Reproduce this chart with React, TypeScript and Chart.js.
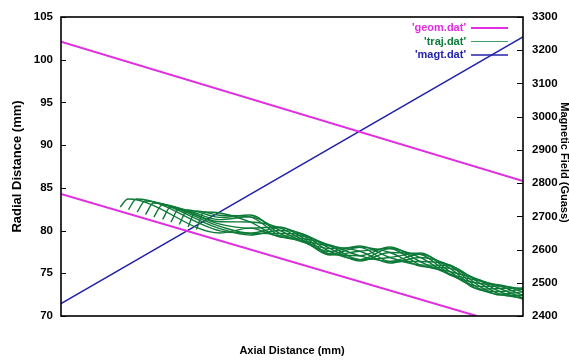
import React, { useEffect, useRef } from 'react';
import { Chart, registerables } from 'chart.js';

Chart.register(...registerables);

// ---- data ----
const radialRange = [70, 105];
const fieldRange = [2400, 3300];
const axialRange = [0, 100];

const geomUpperX = [0, 100];
const geomUpperY = [102.1, 85.8];
const geomLowerX = [0, 90];
const geomLowerY = [84.3, 70.0];

const magtX = [0, 100];
const magtY = [2437, 3240];

// trajectory heads: [start, first peak]
const trajHeads: number[][][] = [
  [[12.8, 82.76], [14.5, 83.70]],
  [[14.6, 82.46], [16.3, 83.70]],
  [[16.5, 82.17], [18.2, 83.46]],
  [[18.3, 81.88], [20.0, 83.23]],
  [[20.1, 81.59], [21.9, 83.0]],
  [[22.0, 81.30], [23.7, 82.76]],
  [[23.8, 81.0], [25.5, 82.53]],
  [[25.6, 80.71], [27.4, 82.41]],
  [[27.5, 80.42], [29.2, 82.29]],
  [[29.3, 80.12], [31.0, 82.17]],
];
const trajGridX = [34.4, 40.9, 47.4, 51.7, 58.2, 64.7, 71.2, 77.7, 84.2, 90.7, 95.0, 100];
const trajTails: number[][] = [
  [79.71, 80.29, 79.36, 79.39, 78.20, 76.60, 76.85, 77.37, 75.20, 73.15, 73.22, 73.28],
  [79.97, 79.70, 79.65, 79.63, 77.91, 76.44, 77.43, 77.23, 74.91, 73.45, 73.51, 73.15],
  [80.23, 79.48, 80.01, 79.72, 77.55, 76.60, 77.90, 76.85, 74.80, 73.81, 73.63, 72.83],
  [80.49, 79.70, 80.31, 79.63, 77.25, 77.05, 78.07, 76.38, 74.91, 74.10, 73.51, 72.43],
  [80.75, 80.29, 80.42, 79.39, 77.14, 77.58, 77.90, 75.99, 75.20, 74.21, 73.22, 72.11],
  [81.03, 81.01, 80.31, 79.10, 77.25, 78.03, 77.43, 75.85, 75.57, 74.10, 72.86, 71.99],
  [81.28, 81.60, 80.01, 78.87, 77.55, 78.19, 76.85, 75.99, 75.86, 73.81, 72.56, 72.11],
  [81.54, 81.82, 79.65, 78.78, 77.91, 78.03, 76.38, 76.38, 75.97, 73.45, 72.45, 72.43],
  [81.80, 81.60, 79.36, 78.87, 78.20, 77.58, 76.20, 76.85, 75.86, 73.15, 72.56, 72.83],
  [82.06, 81.01, 79.25, 79.10, 78.31, 77.05, 76.38, 77.23, 75.57, 73.04, 72.86, 73.15],
];

const legendLabels = ["'geom.dat'", "'traj.dat'", "'magt.dat'"];
const axisTitles = ['Axial Distance (mm)', 'Radial Distance (mm)', 'Magnetic Field (Guass)'];

// ---- styles ----
const GEOM = '#e02ee0';
const TRAJ = '#0e7a38';
const MAGT = '#2222aa';
const FONT = "'Liberation Sans', Arial, sans-serif";

const zip = (xs: number[], ys: number[]) => xs.map((x, i) => ({ x, y: ys[i] }));

const framePlugin = {
  id: 'frame',
  afterDraw(chart: any) {
    const { ctx, chartArea: a, scales } = chart;
    ctx.save();
    ctx.strokeStyle = '#000';
    ctx.lineWidth = 1.6;
    ctx.strokeRect(a.left, a.top, a.right - a.left, a.bottom - a.top);
    ctx.lineWidth = 1;
    ctx.beginPath();
    scales.y.ticks.forEach((t: any) => {
      const py = Math.round(scales.y.getPixelForValue(t.value)) + 0.5;
      ctx.moveTo(a.left, py);
      ctx.lineTo(a.left + 5, py);
    });
    scales.y2.ticks.forEach((t: any) => {
      const py = Math.round(scales.y2.getPixelForValue(t.value)) + 0.5;
      ctx.moveTo(a.right - 6, py);
      ctx.lineTo(a.right, py);
    });
    ctx.stroke();

    // right axis title (reads top to bottom)
    ctx.save();
    ctx.fillStyle = '#000';
    ctx.font = `bold 11px ${FONT}`;
    ctx.textAlign = 'center';
    ctx.textBaseline = 'middle';
    ctx.translate(564, (a.top + a.bottom) / 2 - 4);
    ctx.rotate(Math.PI / 2);
    ctx.fillText(axisTitles[2], 0, 0);
    ctx.restore();

    // legend (gnuplot style: text right-aligned, sample line on the right)
    const colors = [GEOM, '#3f9f6a', MAGT];
    const widths = [2, 1, 1.5];
    ctx.font = `bold 11px ${FONT}`;
    ctx.textAlign = 'right';
    ctx.textBaseline = 'middle';
    legendLabels.forEach((lab, i) => {
      const y = a.top + 11 + i * 13.5;
      ctx.fillStyle = i === 1 ? TRAJ : colors[i];
      ctx.fillText(lab, a.right - 57, y);
      ctx.strokeStyle = colors[i];
      ctx.lineWidth = widths[i];
      ctx.beginPath();
      ctx.moveTo(a.right - 52, y);
      ctx.lineTo(a.right - 15, y);
      ctx.stroke();
    });
    ctx.restore();
  },
};

export default function App() {
  const ref = useRef<HTMLCanvasElement>(null);

  useEffect(() => {
    document.body.style.margin = '0';
    const trajSets = trajHeads.map((head, k) => ({
      label: legendLabels[1],
      data: [
        ...head.map(([x, y]) => ({ x, y })),
        ...zip(trajGridX, trajTails[k]),
      ],
      borderColor: TRAJ,
      borderWidth: 1.4,
      pointRadius: 0,
      cubicInterpolationMode: 'monotone' as const,
      yAxisID: 'y',
    }));
    const tickFmt = (v: any) => String(v);
    const chart = new Chart(ref.current!, {
      type: 'line',
      data: {
        datasets: [
          ...trajSets,
          { label: legendLabels[0], data: zip(geomUpperX, geomUpperY), borderColor: GEOM, borderWidth: 2, pointRadius: 0, yAxisID: 'y' },
          { label: legendLabels[0], data: zip(geomLowerX, geomLowerY), borderColor: GEOM, borderWidth: 2, pointRadius: 0, yAxisID: 'y' },
          { label: legendLabels[2], data: zip(magtX, magtY), borderColor: MAGT, borderWidth: 1.5, pointRadius: 0, yAxisID: 'y2' },
        ],
      },
      options: {
        animation: false,
        responsive: false,
        events: [],
        layout: { padding: { top: 17, left: 0, right: 0, bottom: 0 } },
        plugins: { legend: { display: false }, tooltip: { enabled: false } },
        scales: {
          x: {
            type: 'linear',
            min: axialRange[0],
            max: axialRange[1],
            grid: { display: false, drawTicks: false },
            border: { display: false },
            ticks: { display: false },
            title: { display: true, text: axisTitles[0], color: '#000', font: { family: FONT, size: 11, weight: 'bold' }, padding: { top: 0, bottom: 2 } },
            afterFit: (s: any) => { s.height = 44; },
          },
          y: {
            type: 'linear',
            position: 'left',
            min: radialRange[0],
            max: radialRange[1],
            grid: { display: false, drawTicks: false },
            border: { display: false },
            ticks: { stepSize: 5, color: '#000', padding: 8, callback: tickFmt, font: { family: FONT, size: 11.5, weight: 'bold' } },
            title: { display: true, text: axisTitles[1], color: '#000', font: { family: FONT, size: 13, weight: 'bold' }, padding: { top: 10, bottom: 0 } },
            afterFit: (s: any) => { s.width = 61; },
          },
          y2: {
            type: 'linear',
            position: 'right',
            min: fieldRange[0],
            max: fieldRange[1],
            grid: { display: false, drawTicks: false },
            border: { display: false },
            ticks: { stepSize: 100, color: '#000', padding: 9, callback: tickFmt, font: { family: FONT, size: 11.5, weight: 'bold' } },
            title: { display: false },
            afterFit: (s: any) => { s.width = 46; },
          },
        },
      },
      plugins: [framePlugin],
    });
    return () => chart.destroy();
  }, []);

  return (
    <div style={{ width: 569, height: 360 }}>
      <canvas ref={ref} width={569} height={360} />
    </div>
  );
}
